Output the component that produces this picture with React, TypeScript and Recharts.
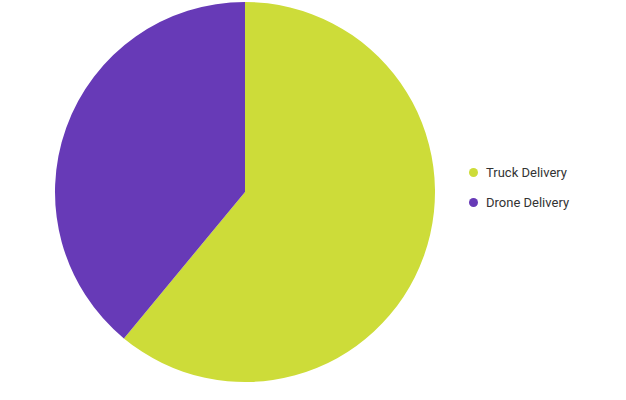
import React from 'react';
import { PieChart, Pie, Cell, Legend } from 'recharts';

const categories = ['Truck Delivery', 'Drone Delivery'];
const shares = [61, 39];
const colors = ['#CDDC39', '#673AB7'];

const data = categories.map((name, i) => ({ name, value: shares[i] }));

const renderLegend = () => (
    <div style={{ fontFamily: 'Roboto, sans-serif', fontSize: 13, color: '#333' }}>
        {categories.map((name, i) => (
            <div key={name} style={{ display: 'flex', alignItems: 'center', height: 30 }}>
                <span
                    style={{
                        display: 'inline-block',
                        width: 9,
                        height: 9,
                        borderRadius: '50%',
                        background: colors[i],
                        marginRight: 8
                    }}
                />
                <span>{name}</span>
            </div>
        ))}
    </div>
);

const App = () => (
    <div style={{ position: 'absolute', top: 0, left: 0 }}>
        <PieChart width={626} height={400} margin={{ top: 0, right: 0, bottom: 0, left: 0 }}>
            <Pie
                data={data}
                dataKey="value"
                nameKey="name"
                cx={245}
                cy={192}
                outerRadius={190}
                startAngle={90}
                endAngle={-270}
                stroke="none"
                isAnimationActive={false}
            >
                {data.map((d, i) => (
                    <Cell key={d.name} fill={colors[i]} />
                ))}
            </Pie>
            <Legend content={renderLegend} wrapperStyle={{ left: 469, top: 157, width: 140 }} />
        </PieChart>
    </div>
);

export default App;
